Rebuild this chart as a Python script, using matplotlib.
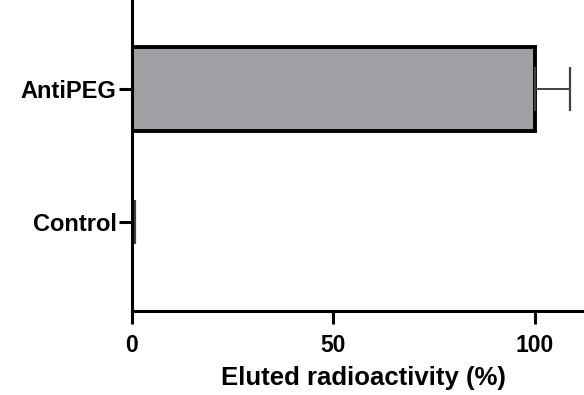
import matplotlib
matplotlib.use("Agg")
import matplotlib.pyplot as plt

# Daten
groups = ["Control", "AntiPEG"]
eluted = [0.1, 100.0]
eluted_err = [0.6, 8.7]
x_ticks = [0, 50, 100]

plt.rcParams['font.family'] = ['Liberation Sans', 'DejaVu Sans']
plt.rcParams['font.weight'] = 'bold'

fig = plt.figure(figsize=(5.84, 3.95), dpi=100)
# Achse läuft rechts über den Bildrand hinaus (wie im Original abgeschnitten)
ax = fig.add_axes([0.226, 0.213, 0.793, 0.787])

ypos = list(range(len(groups)))
ax.barh(ypos, eluted, height=0.63, color='#a09fa3', edgecolor='black', linewidth=2.8)
ax.errorbar(eluted, ypos, xerr=[[0] * len(eluted), eluted_err], fmt='none',
            ecolor='#404040', elinewidth=1.4, capsize=16, capthick=1.6)

ax.set_xlim(0, 115)
ax.set_ylim(-0.67, 1.67)
ax.set_xticks(x_ticks)
ax.set_yticks(ypos)
ax.set_yticklabels(groups)
ax.set_xlabel("Eluted radioactivity (%)", fontsize=18.5, fontweight='bold', labelpad=6)

for side in ['top', 'right']:
    ax.spines[side].set_visible(False)
for side in ['left', 'bottom']:
    ax.spines[side].set_linewidth(2.2)
    ax.spines[side].set_zorder(3)

ax.tick_params(axis='both', width=2.2, length=9.5, labelsize=16.5)
ax.tick_params(axis='x', pad=7.5)
ax.tick_params(axis='y', pad=1.5, labelsize=17)

fig.savefig("out.png", dpi=100)
